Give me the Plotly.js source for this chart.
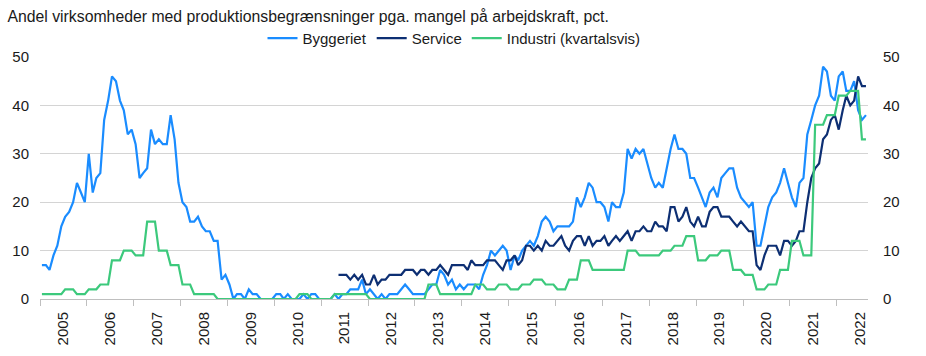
<!DOCTYPE html>
<html>
<head>
<meta charset="utf-8">
<script src="https://cdn.plot.ly/plotly-3.0.1.min.js"></script>
<style>
  html, body { margin: 0; padding: 0; background: #ffffff; }
  #chart { width: 926px; height: 356px; }
</style>
</head>
<body>
<div id="chart"></div>
<script>
// Monthly observations, January 2005 to August 2022 (212 months)
const startYear = 2005;
const monthCount = 212;

const seriesNames = ['Byggeriet', 'Service', 'Industri (kvartalsvis)'];

// Byggeriet, pct., one value per month
const byggeriet = [
  7, 7, 6, 9, 11, 15, 17, 18, 20, 24, 22, 20,          // 2005
  30, 22, 25, 26, 37, 41, 46, 45, 41, 39, 34, 35,      // 2006
  32, 25, 26, 27, 35, 32, 33, 32, 32, 38, 33, 24,      // 2007
  20, 19, 16, 16, 17, 15, 14, 14, 12, 12, 4, 5,        // 2008
  3, 0, 1, 1, 0, 2, 1, 1, 0, 0, 0, 0,                  // 2009
  1, 1, 0, 1, 0, 0, 0, 1, 0, 1, 1, 0,                  // 2010
  0, 0, 0, 1, 0, 1, 1, 2, 2, 2, 4, 1,                  // 2011
  2, 1, 0, 1, 0, 1, 1, 1, 2, 3, 2, 1,                  // 2012
  1, 1, 1, 2, 3, 3, 6, 5, 3, 4, 2, 3,                  // 2013
  2, 3, 3, 3, 2, 5, 7, 10, 9, 10, 11, 10,              // 2014
  6, 9, 8, 10, 11, 12, 11, 13, 16, 17, 16, 14,         // 2015
  15, 15, 15, 15, 16, 21, 19, 21, 24, 23, 20, 20,      // 2016
  19, 16, 20, 19, 19, 22, 31, 29, 31, 30, 31, 28,      // 2017
  25, 23, 24, 23, 27, 31, 34, 31, 31, 30, 25, 25,      // 2018
  23, 21, 19, 22, 23, 21, 25, 26, 27, 27, 23, 21,      // 2019
  20, 19, 20, 11, 11, 15, 19, 21, 22, 24, 27, 24,      // 2020
  21, 19, 24, 25, 34, 37, 40, 42, 48, 47, 42, 41,      // 2021
  46, 47, 43, 43, 45, 39, 37, 38                       // 2022
];

// Service, pct., series begins May 2011
const service = [
  null, null, null, null, null, null, null, null, null, null, null, null,   // 2005
  null, null, null, null, null, null, null, null, null, null, null, null,   // 2006
  null, null, null, null, null, null, null, null, null, null, null, null,   // 2007
  null, null, null, null, null, null, null, null, null, null, null, null,   // 2008
  null, null, null, null, null, null, null, null, null, null, null, null,   // 2009
  null, null, null, null, null, null, null, null, null, null, null, null,   // 2010
  null, null, null, null, 5, 5, 5, 4, 5, 4, 5, 3,      // 2011
  3, 5, 3, 4, 4, 5, 5, 5, 5, 6, 6, 6,                  // 2012
  5, 6, 6, 5, 6, 6, 7, 6, 5, 7, 7, 7,                  // 2013
  7, 6, 8, 7, 7, 7, 8, 8, 8, 7, 6, 8,                  // 2014
  8, 9, 7, 8, 11, 11, 10, 11, 10, 12, 11, 11,          // 2015
  12, 13, 11, 10, 12, 13, 13, 11, 13, 11, 12, 12,      // 2016
  13, 11, 12, 13, 12, 13, 14, 12, 14, 14, 15, 14,      // 2017
  14, 16, 15, 15, 14, 19, 19, 16, 17, 19, 16, 15,      // 2018
  17, 15, 15, 18, 19, 19, 17, 17, 17, 16, 15, 16,      // 2019
  15, 14, 14, 7, 6, 9, 11, 11, 11, 9, 12, 12,          // 2020
  11, 12, 14, 14, 20, 25, 27, 28, 33, 34, 37, 38,      // 2021
  35, 39, 42, 40, 41, 46, 44, 44                       // 2022
];

// Industri, pct., quarterly survey shown for each month of its quarter
const industri = [
  1, 1, 1, 1, 1, 1, 2, 2, 2, 1, 1, 1,                  // 2005
  2, 2, 2, 3, 3, 3, 8, 8, 8, 10, 10, 10,               // 2006
  9, 9, 9, 16, 16, 16, 10, 10, 10, 7, 7, 7,            // 2007
  3, 3, 3, 1, 1, 1, 1, 1, 1, 0, 0, 0,                  // 2008
  0, 0, 0, 0, 0, 0, 0, 0, 0, 0, 0, 0,                  // 2009
  0, 0, 0, 0, 0, 0, 1, 1, 1, 0, 0, 0,                  // 2010
  0, 0, 0, 1, 1, 1, 1, 1, 1, 1, 1, 1,                  // 2011
  0, 0, 0, 0, 0, 0, 0, 0, 0, 0, 0, 0,                  // 2012
  0, 0, 0, 3, 3, 3, 1, 1, 1, 1, 1, 1,                  // 2013
  1, 1, 1, 3, 3, 3, 2, 2, 2, 3, 3, 3,                  // 2014
  2, 2, 2, 3, 3, 3, 4, 4, 4, 3, 3, 3,                  // 2015
  2, 2, 2, 4, 4, 4, 8, 8, 8, 6, 6, 6,                  // 2016
  6, 6, 6, 6, 6, 6, 10, 10, 10, 9, 9, 9,               // 2017
  9, 9, 9, 10, 10, 10, 11, 11, 11, 13, 13, 13,         // 2018
  8, 8, 8, 9, 9, 9, 10, 10, 10, 6, 6, 6,               // 2019
  5, 5, 5, 2, 2, 2, 3, 3, 3, 6, 6, 6,                  // 2020
  12, 12, 12, 9, 9, 9, 36, 36, 36, 38, 38, 38,         // 2021
  42, 42, 42, 43, 43, 43, 33, 33                       // 2022
];

const colors = ['#1A8CFF', '#0D2F73', '#3CC97C'];

// Month positions on the date axis (middle of each month)
const months = [];
for (let i = 0; i < monthCount; i++) {
  const y = startYear + Math.floor(i / 12);
  const m = (i % 12) + 1;
  months.push(y + '-' + String(m).padStart(2, '0') + '-16');
}

const fontFamily = '"Liberation Sans", Arial, sans-serif';
const textColor = '#1a1a1a';

const traces = [byggeriet, service, industri].map((vals, k) => ({
  type: 'scatter',
  mode: 'lines',
  name: seriesNames[k],
  x: months,
  y: vals,
  connectgaps: false,
  line: { color: colors[k], width: 2.2 },
  hoverinfo: 'skip'
}));

// invisible trace keeps the right-hand axis alive
traces.push({
  type: 'scatter', mode: 'lines', x: months, y: byggeriet, yaxis: 'y2',
  showlegend: false, hoverinfo: 'skip', line: { width: 0 }, opacity: 0
});

const layout = {
  width: 926,
  height: 356,
  margin: { l: 40, r: 58, t: 57, b: 57 },
  paper_bgcolor: '#ffffff',
  plot_bgcolor: '#ffffff',
  font: { family: fontFamily, size: 15, color: textColor },
  title: {
    text: 'Andel virksomheder med produktionsbegrænsninger pga. mangel på arbejdskraft, pct.',
    font: { family: fontFamily, size: 15.8, color: textColor },
    x: 0.008, xref: 'container', xanchor: 'left',
    y: 0.955, yref: 'container', yanchor: 'middle'
  },
  showlegend: true,
  legend: {
    orientation: 'h',
    x: 0.5, xanchor: 'center',
    y: 1.077, yanchor: 'middle',
    font: { family: fontFamily, size: 15, color: textColor },
    itemwidth: 30,
    bgcolor: 'rgba(0,0,0,0)'
  },
  xaxis: {
    type: 'date',
    range: ['2005-01-01', '2022-09-01'],
    tick0: '2005-01-01',
    dtick: 'M12',
    tickformat: '%Y',
    ticklabelmode: 'period',
    tickangle: -90,
    ticks: 'outside',
    ticklen: 6,
    tickcolor: '#BFBFBF',
    showline: true,
    linecolor: '#BFBFBF',
    linewidth: 1,
    showgrid: false,
    zeroline: false,
    tickfont: { family: fontFamily, size: 15, color: textColor }
  },
  yaxis: {
    range: [0, 50],
    dtick: 10,
    showgrid: true,
    gridcolor: '#D4D4D4',
    gridwidth: 1,
    zeroline: false,
    showline: false,
    ticks: '',
    ticklabelstandoff: 10,
    tickfont: { family: fontFamily, size: 15, color: textColor }
  },
  yaxis2: {
    range: [0, 50],
    dtick: 10,
    overlaying: 'y',
    side: 'right',
    showgrid: false,
    zeroline: false,
    showline: false,
    ticks: '',
    ticklabelstandoff: 14,
    tickfont: { family: fontFamily, size: 15, color: textColor }
  }
};

Plotly.newPlot('chart', traces, layout, { displayModeBar: false, staticPlot: true });
</script>
</body>
</html>
